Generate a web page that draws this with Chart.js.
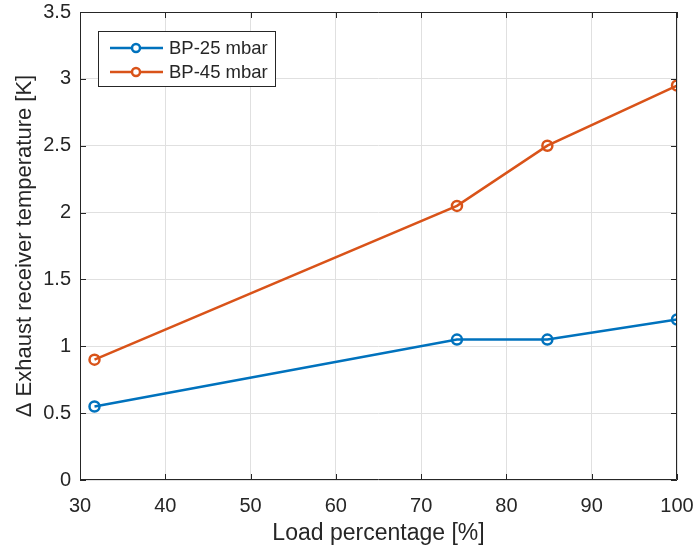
<!DOCTYPE html>
<html>
<head>
<meta charset="utf-8">
<script src="https://cdn.jsdelivr.net/npm/chart.js@4.4.0/dist/chart.umd.min.js"></script>
<style>
    html, body { margin: 0; padding: 0; background: #fff; }
    #wrap { width: 695px; height: 551px; position: relative; }
</style>
</head>
<body>
<div id="wrap"><canvas id="temp-chart"></canvas></div>
<script>
// load percentage values (x)
const loadPct = [31.7, 74.2, 84.8, 100];
const bp25 = [0.55, 1.05, 1.05, 1.2];
const bp45 = [0.9, 2.05, 2.5, 2.95];
const seriesLabels = ['BP-25 mbar', 'BP-45 mbar'];
const xTicks = [30, 40, 50, 60, 70, 80, 90, 100];
const yTicks = [0, 0.5, 1, 1.5, 2, 2.5, 3, 3.5];

const FONT = "'Liberation Sans', Arial, sans-serif";
const TXT = '#262626';
const BLUE = '#0072BD';
const ORANGE = '#D95319';

const toPoints = ys => loadPct.map((x, i) => ({ x: x, y: ys[i] }));

// box round the plot, inward ticks and legend inside the axes
const matlabAxes = {
    id: 'matlabAxes',
    afterDatasetsDraw(chart) {
        const { ctx, chartArea: a, scales } = chart;
        ctx.save();
        ctx.strokeStyle = TXT;
        ctx.lineWidth = 1;
        ctx.beginPath();
        ctx.rect(a.left + 0.5, a.top + 0.5, a.right - a.left - 1, a.bottom - a.top - 1);
        ctx.stroke();
        ctx.beginPath();
        xTicks.forEach(v => {
            const px = Math.round(scales.x.getPixelForValue(v)) + 0.5;
            ctx.moveTo(px, a.bottom); ctx.lineTo(px, a.bottom - 6);
            ctx.moveTo(px, a.top); ctx.lineTo(px, a.top + 6);
        });
        yTicks.forEach(v => {
            const py = Math.round(scales.y.getPixelForValue(v)) + 0.5;
            ctx.moveTo(a.left, py); ctx.lineTo(a.left + 6, py);
            ctx.moveTo(a.right, py); ctx.lineTo(a.right - 6, py);
        });
        ctx.stroke();

        // legend
        const lx = 98, ly = 31, lw = 177, lh = 55;
        ctx.fillStyle = '#fff';
        ctx.fillRect(lx, ly, lw, lh);
        ctx.strokeStyle = TXT;
        ctx.strokeRect(lx + 0.5, ly + 0.5, lw, lh);
        const colors = [BLUE, ORANGE];
        ctx.font = '18.5px ' + FONT;
        ctx.textBaseline = 'middle';
        seriesLabels.forEach((lab, i) => {
            const cy = ly + 17 + i * 24;
            ctx.strokeStyle = colors[i];
            ctx.lineWidth = 2.5;
            ctx.beginPath();
            ctx.moveTo(lx + 12, cy); ctx.lineTo(lx + 65, cy);
            ctx.stroke();
            ctx.beginPath();
            ctx.arc(lx + 38, cy, 4, 0, Math.PI * 2);
            ctx.fillStyle = '#fff';
            ctx.fill();
            ctx.stroke();
            ctx.fillStyle = TXT;
            ctx.fillText(lab, lx + 71, cy + 1);
        });
        ctx.restore();
    }
};

const commonSet = color => ({
    borderColor: color,
    backgroundColor: color,
    borderWidth: 2.5,
    pointRadius: 5,
    pointHoverRadius: 5,
    pointBorderWidth: 2.5,
    pointBackgroundColor: 'rgba(255,255,255,0)',
    pointBorderColor: color,
    tension: 0
});

new Chart(document.getElementById('temp-chart'), {
    type: 'scatter',
    data: {
        datasets: [
            { label: seriesLabels[0], data: toPoints(bp25), showLine: true, ...commonSet(BLUE) },
            { label: seriesLabels[1], data: toPoints(bp45), showLine: true, ...commonSet(ORANGE) }
        ]
    },
    options: {
        responsive: true,
        maintainAspectRatio: false,
        animation: false,
        layout: { padding: { top: 12, right: 18, left: 12, bottom: 4 } },
        plugins: {
            legend: { display: false },
            tooltip: { enabled: false }
        },
        scales: {
            x: {
                type: 'linear',
                min: 30, max: 100,
                afterBuildTicks: s => { s.ticks = xTicks.map(v => ({ value: v })); },
                afterFit: s => { s.height = 67; s.paddingLeft = 0; s.paddingRight = 0; },
                grid: { color: '#e0e0e0', drawTicks: false, lineWidth: 1 },
                border: { display: false },
                ticks: { color: TXT, font: { family: FONT, size: 20 }, padding: 14, maxRotation: 0,
                         callback: v => String(v) },
                title: { display: true, text: 'Load percentage [%]', color: TXT,
                         font: { family: FONT, size: 23 }, padding: 0 }
            },
            y: {
                min: 0, max: 3.5,
                afterBuildTicks: s => { s.ticks = yTicks.map(v => ({ value: v })); },
                afterFit: s => { s.width = 68; s.paddingTop = 0; s.paddingBottom = 0; },
                grid: { color: '#e0e0e0', drawTicks: false, lineWidth: 1 },
                border: { display: false },
                ticks: { color: TXT, font: { family: FONT, size: 20 }, padding: 9,
                         callback: v => String(v) },
                title: { display: true, text: '\u0394 Exhaust receiver temperature [K]', color: TXT,
                         font: { family: FONT, size: 22 }, padding: 0 }
            }
        }
    },
    plugins: [matlabAxes]
});
</script>
</body>
</html>
